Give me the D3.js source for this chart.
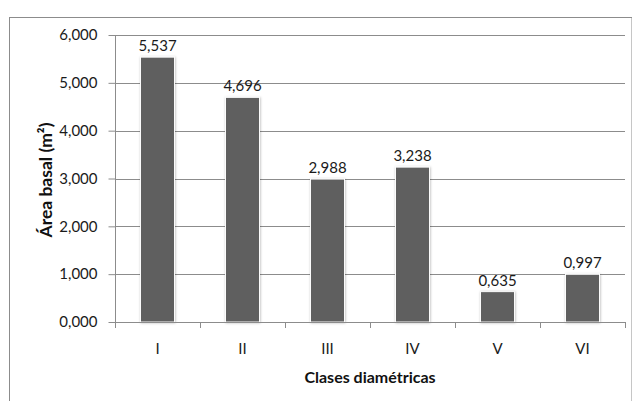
<!DOCTYPE html>
<html>
<head>
<meta charset="utf-8">
<script src="https://cdn.jsdelivr.net/npm/d3@7"></script>
<style>
  html, body { margin: 0; padding: 0; background: #fff; }
  svg { display: block; }
  text { font-family: Lato, "Open Sans", sans-serif; }
</style>
</head>
<body>
<script>
// Basal area by diameter class
const categories = ["I", "II", "III", "IV", "V", "VI"];
const values = [5.537, 4.696, 2.988, 3.238, 0.635, 0.997];
const yTicks = [0, 1, 2, 3, 4, 5, 6];

const W = 632, H = 401;
const margin = { left: 115, right: 7, top: 35, bottom: 77 };

const svg = d3.select("body").append("svg")
  .attr("width", W).attr("height", H);

const defs = svg.append("defs");
const shadow = defs.append("filter").attr("id", "barShadow")
  .attr("x", "-20%").attr("y", "-10%").attr("width", "140%").attr("height", "120%");
shadow.append("feDropShadow")
  .attr("dx", 0.5).attr("dy", 0.5).attr("stdDeviation", 1.2)
  .attr("flood-color", "#000").attr("flood-opacity", 0.28);

// outer chart frame
svg.append("rect")
  .attr("x", 9.5).attr("y", 17.5)
  .attr("width", W - 9.5).attr("height", H)
  .attr("fill", "#fff").attr("stroke", "#8c8c8c").attr("stroke-width", 1);

const x = d3.scaleBand()
  .domain(categories)
  .range([margin.left, W - margin.right])
  .paddingInner(0.6).paddingOuter(0.3);

const xEdges = d3.scaleLinear()
  .domain([0, categories.length])
  .range([margin.left, W - margin.right]);

const y = d3.scaleLinear()
  .domain([0, 6])
  .range([H - margin.bottom - 2, margin.top]);

const fmt = v => d3.format(".3f")(v).replace(".", ",");

// gridlines
svg.append("g")
  .selectAll("line")
  .data(yTicks.filter(t => t > 0))
  .join("line")
  .attr("x1", margin.left).attr("x2", W - margin.right)
  .attr("y1", d => Math.round(y(d)) + 0.5).attr("y2", d => Math.round(y(d)) + 0.5)
  .attr("stroke", "#8c8c8c").attr("stroke-width", 1);

// y axis
const yAxis = svg.append("g")
  .attr("transform", `translate(${margin.left + 0.5},0)`)
  .call(d3.axisLeft(y).tickValues(yTicks).tickFormat(fmt).tickSize(7).tickPadding(11));
yAxis.select(".domain").attr("stroke", "#8c8c8c").attr("d", `M0,${y(0)}V${y(6)}`);
yAxis.selectAll(".tick line").attr("stroke", "#8c8c8c");
yAxis.selectAll(".tick text")
  .attr("fill", "#1a1a1a").style("font-size", "15px")
  .style("font-family", "Lato, sans-serif");

// bars
svg.append("g")
  .selectAll("rect")
  .data(values)
  .join("rect")
  .attr("x", (d, i) => x(categories[i]))
  .attr("y", d => y(d))
  .attr("width", x.bandwidth())
  .attr("height", d => y(0) - y(d))
  .attr("fill", "#5f5f5f")
  .attr("stroke", "#fbfbfb").attr("stroke-width", 1)
  .attr("filter", "url(#barShadow)");

// x axis baseline with category boundary ticks
const xAxisG = svg.append("g");
xAxisG.append("line")
  .attr("x1", margin.left).attr("x2", W - margin.right)
  .attr("y1", Math.round(y(0)) + 0.5).attr("y2", Math.round(y(0)) + 0.5)
  .attr("stroke", "#8c8c8c");
xAxisG.selectAll("line.edge")
  .data(d3.range(categories.length + 1))
  .join("line").attr("class", "edge")
  .attr("x1", d => Math.round(xEdges(d)) + 0.5).attr("x2", d => Math.round(xEdges(d)) + 0.5)
  .attr("y1", Math.round(y(0))).attr("y2", Math.round(y(0)) + 6)
  .attr("stroke", "#8c8c8c");
xAxisG.selectAll("text")
  .data(categories)
  .join("text")
  .attr("x", d => x(d) + x.bandwidth() / 2)
  .attr("y", 354)
  .attr("text-anchor", "middle")
  .attr("fill", "#1a1a1a")
  .style("font-size", "15px")
  .text(d => d);

// value labels
svg.append("g")
  .selectAll("text")
  .data(values)
  .join("text")
  .attr("x", (d, i) => x(categories[i]) + x.bandwidth() / 2)
  .attr("y", d => y(d) - 6)
  .attr("text-anchor", "middle")
  .attr("fill", "#1a1a1a")
  .style("font-size", "15px")
  .text(d => fmt(d));

// axis titles
svg.append("text")
  .attr("x", 370).attr("y", 383)
  .attr("text-anchor", "middle")
  .attr("fill", "#111")
  .style("font-size", "16px").style("font-weight", "bold")
  .text("Clases diamétricas");

svg.append("text")
  .attr("transform", "translate(52,180) rotate(-90)")
  .attr("text-anchor", "middle")
  .attr("fill", "#111")
  .style("font-size", "17.5px").style("font-weight", "bold")
  .text("Área basal (m²)");
</script>
</body>
</html>
